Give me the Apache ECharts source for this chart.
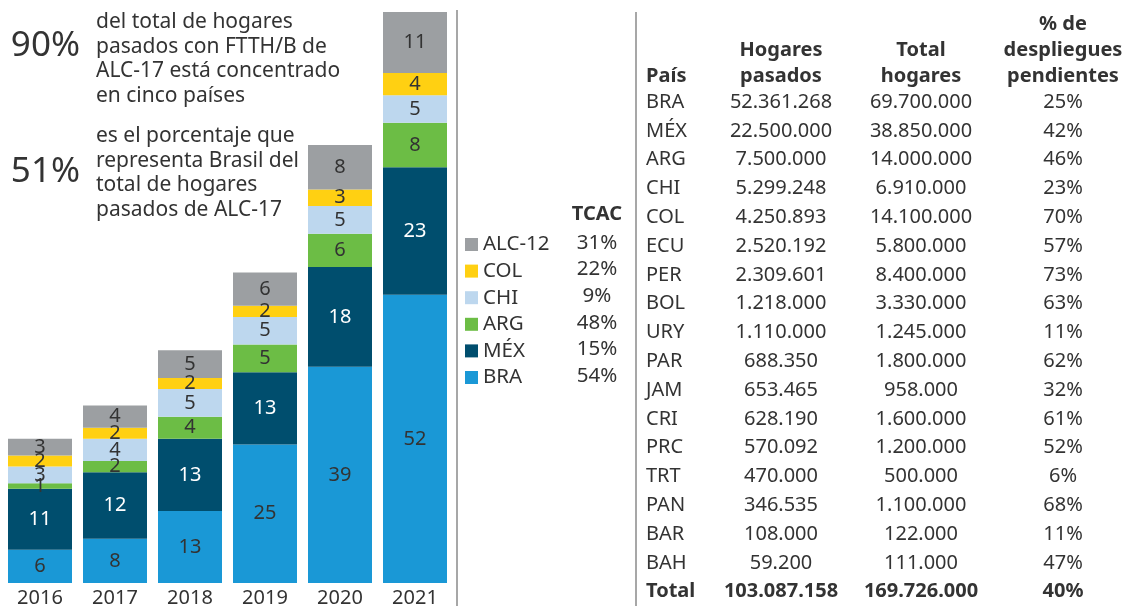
<!DOCTYPE html>
<html><head><meta charset="utf-8">
<script src="https://cdn.jsdelivr.net/npm/echarts@6/dist/echarts.min.js"></script>
<style>html,body{margin:0;padding:0;background:#fff}#c{width:1124px;height:606px}</style>
</head><body><div id="c"></div>
<script>
// ---- data ----
const years = ['2016','2017','2018','2019','2020','2021'];
const bra   = [6, 8, 13, 25, 39, 52];
const mex   = [11, 12, 13, 13, 18, 23];
const arg   = [1, 2, 4, 5, 6, 8];
const chi   = [3, 4, 5, 5, 5, 5];
const col   = [2, 2, 2, 2, 3, 4];
const alc12 = [3, 4, 5, 6, 8, 11];
const seriesNames = ['BRA','MÉX','ARG','CHI','COL','ALC-12'];
const tcac = [54, 15, 48, 9, 22, 31]; // same order as seriesNames

const tblCountries = ['BRA','MÉX','ARG','CHI','COL','ECU','PER','BOL','URY','PAR','JAM','CRI','PRC','TRT','PAN','BAR','BAH'];
const tblPasados = [52361268,22500000,7500000,5299248,4250893,2520192,2309601,1218000,1110000,688350,653465,628190,570092,470000,346535,108000,59200];
const tblTotal   = [69700000,38850000,14000000,6910000,14100000,5800000,8400000,3330000,1245000,1800000,958000,1600000,1200000,500000,1100000,122000,111000];
const tblPend    = [25,42,46,23,70,57,73,63,11,62,32,61,52,6,68,11,47];
const tblTotalRow = ['Total', 103087158, 169726000, 40];

// ---- styles ----
const FONT = '"Noto Sans", sans-serif';
const TXT = '#333333';
const colors = {'BRA':'#1a98d6','MÉX':'#004e6e','ARG':'#6cbd45','CHI':'#bdd7ee','COL':'#ffd012','ALC-12':'#9c9fa2'};
const valuesBySeries = [bra, mex, arg, chi, col, alc12];
const stackTotals = years.map((_, i) => valuesBySeries.reduce((s, a) => s + a[i], 0));
const fmt = n => n.toLocaleString('de-DE');

const chart = echarts.init(document.getElementById('c'));

const series = seriesNames.map((name, k) => ({
  name, type: 'bar', stack: 'total', barWidth: 64,
  data: valuesBySeries[k],
  itemStyle: { color: colors[name] },
  label: { show: true, position: 'inside', fontFamily: FONT, fontSize: 20,
           color: name === 'MÉX' ? '#ffffff' : TXT }
}));

const g = [];
function txt(text, x, y, opt) {
  g.push({ type: 'text', silent: true, style: Object.assign({
    text, x, y, fill: TXT, font: '20px ' + FONT, textAlign: 'left', textVerticalAlign: 'middle'
  }, opt || {}) });
}
// annotations
const AF = '21px ' + FONT;
txt('90%', 80, 46, { textAlign: 'right', font: '35px ' + FONT });
['del total de hogares','pasados con FTTH/B de','ALC-17 está concentrado','en cinco países']
  .forEach((t, i) => txt(t, 96, 22 + i * 24.6, { font: AF }));
txt('51%', 80, 172, { textAlign: 'right', font: '35px ' + FONT });
['es el porcentaje que','representa Brasil del','total de hogares','pasados de ALC-17']
  .forEach((t, i) => txt(t, 96, 136 + i * 24.6, { font: AF }));

// separators
g.push({ type: 'line', silent: true, shape: { x1: 457, y1: 10, x2: 457, y2: 606 }, style: { stroke: '#8a8a8a', lineWidth: 1.5 } });
g.push({ type: 'line', silent: true, shape: { x1: 636, y1: 12, x2: 636, y2: 606 }, style: { stroke: '#8a8a8a', lineWidth: 1.5 } });

// TCAC column
const legendOrder = ['ALC-12','COL','CHI','ARG','MÉX','BRA'];
txt('TCAC', 597, 214, { textAlign: 'center', font: 'bold 20px ' + FONT });
legendOrder.forEach((n, i) => txt(tcac[seriesNames.indexOf(n)] + '%', 597, 243 + i * 26.6, { textAlign: 'center', font: '20.5px ' + FONT }));

// table
const cX = 646, hX = 781, tX = 921, pX = 1063;
const B = 'bold 20px ' + FONT;
txt('País', cX, 76, { font: B });
txt('Hogares', hX, 50, { font: B, textAlign: 'center' });
txt('pasados', hX, 76, { font: B, textAlign: 'center' });
txt('Total', tX, 50, { font: B, textAlign: 'center' });
txt('hogares', tX, 76, { font: B, textAlign: 'center' });
txt('% de', pX, 24, { font: B, textAlign: 'center' });
txt('despliegues', pX, 50, { font: B, textAlign: 'center' });
txt('pendientes', pX, 76, { font: B, textAlign: 'center' });
const rowH = 28.8;
tblCountries.forEach((c, i) => {
  const y = 102 + i * rowH;
  txt(c, cX, y);
  txt(fmt(tblPasados[i]), hX, y, { textAlign: 'center' });
  txt(fmt(tblTotal[i]), tX, y, { textAlign: 'center' });
  txt(tblPend[i] + '%', pX, y, { textAlign: 'center' });
});
const yT = 102 + tblCountries.length * rowH;
txt(tblTotalRow[0], cX, yT, { font: B });
txt(fmt(tblTotalRow[1]), hX, yT, { font: B, textAlign: 'center' });
txt(fmt(tblTotalRow[2]), tX, yT, { font: B, textAlign: 'center' });
txt(tblTotalRow[3] + '%', pX, yT, { font: B, textAlign: 'center' });

chart.setOption({
  animation: false,
  backgroundColor: '#ffffff',
  grid: { left: 2.5, width: 450, top: 12, bottom: 23, containLabel: false, outerBoundsMode: 'none' },
  xAxis: { type: 'category', data: years, axisLine: { show: false }, axisTick: { show: false },
           axisLabel: { fontFamily: FONT, fontSize: 20, color: TXT, margin: 5 } },
  yAxis: { type: 'value', min: 0, max: Math.max(...stackTotals), show: false, splitLine: { show: false } },
  legend: { orient: 'vertical', left: 460, top: 229, data: legendOrder, itemWidth: 13, itemHeight: 13,
            itemGap: 5.6, icon: 'rect', selectedMode: false,
            textStyle: { fontFamily: FONT, fontSize: 20.5, color: TXT, lineHeight: 20 } },
  series,
  graphic: g
});
</script></body></html>
